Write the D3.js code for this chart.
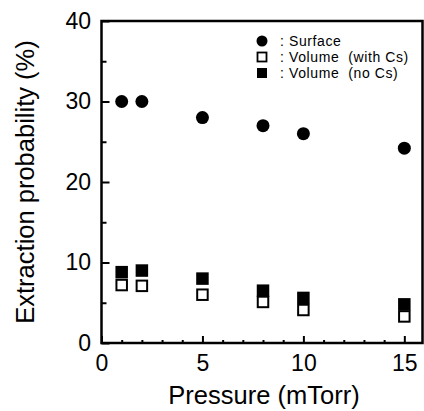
<!DOCTYPE html>
<html>
<head>
<meta charset="utf-8">
<script src="https://cdn.jsdelivr.net/npm/d3@7"></script>
<style>
  body { margin: 0; background: #fff; }
  svg { display: block; font-family: "Liberation Sans", Arial, sans-serif; }
  .axis text { font-size: 23px; fill: #000; }
  .axis line { stroke: #000; stroke-width: 2; }
  .axis-title { font-size: 25.5px; fill: #000; }
  .legend text { font-size: 14px; letter-spacing: 0.6px; fill: #000; white-space: pre; }
</style>
</head>
<body>
<div id="chart"></div>
<script>
// data
const pressure = [1, 2, 5, 8, 10, 15];
const surface = [30, 30, 28, 27, 26, 24.2];
const volumeWithCs = [7.2, 7.1, 6.0, 5.1, 4.1, 3.3];
const volumeNoCs = [8.8, 9.0, 8.0, 6.5, 5.6, 4.8];

const xMajorTicks = [0, 5, 10, 15];
const xMinorTicks = [1, 2, 3, 4, 6, 7, 8, 9, 11, 12, 13, 14];
const yMajorTicks = [0, 10, 20, 30, 40];
const yMinorTicks = [5, 15, 25, 35];

const legendLabels = [': Surface', ': Volume  (with Cs)', ': Volume  (no Cs)'];

const containerWidth = 424, containerHeight = 411;
const margin = {top: 21, right: 1.5, bottom: 68, left: 101.5};
const width = containerWidth - margin.left - margin.right;
const height = containerHeight - margin.top - margin.bottom;

const svg = d3.select('#chart').append('svg')
    .attr('width', containerWidth)
    .attr('height', containerHeight);

const chart = svg.append('g')
    .attr('transform', `translate(${margin.left},${margin.top})`);

const xScale = d3.scaleLinear().domain([0, 15.9]).range([0, width]);
const yScale = d3.scaleLinear().domain([0, 40]).range([height, 0]);

// major + minor ticks, pointing inward
const xAxis = d3.axisBottom(xScale).tickValues(xMajorTicks).tickSize(-7).tickPadding(12).tickFormat(d3.format('d'));
const xMinor = d3.axisBottom(xScale).tickValues(xMinorTicks).tickSize(-3).tickFormat('');
const yAxis = d3.axisLeft(yScale).tickValues(yMajorTicks).tickSize(-8).tickPadding(10.5).tickFormat(d3.format('d'));
const yMinor = d3.axisLeft(yScale).tickValues(yMinorTicks).tickSize(-5).tickFormat('');

chart.append('g').attr('class', 'axis x-axis')
    .attr('transform', `translate(0,${height})`)
    .call(xAxis)
    .call(g => g.select('.domain').remove());
chart.append('g').attr('class', 'axis x-axis')
    .attr('transform', `translate(0,${height})`)
    .call(xMinor)
    .call(g => g.select('.domain').remove());
chart.append('g').attr('class', 'axis y-axis')
    .call(yAxis)
    .call(g => g.select('.domain').remove());
chart.append('g').attr('class', 'axis y-axis')
    .call(yMinor)
    .call(g => g.select('.domain').remove());

chart.selectAll('.axis text').attr('font-family', null).attr('font-size', null);

// frame
chart.append('rect')
    .attr('x', 0).attr('y', 0)
    .attr('width', width).attr('height', height)
    .attr('fill', 'none')
    .attr('stroke', '#000')
    .attr('stroke-width', 2.5);

// axis titles
svg.append('text')
    .attr('class', 'axis-title')
    .attr('x', 264)
    .attr('y', 404)
    .attr('text-anchor', 'middle')
    .text('Pressure (mTorr)');

svg.append('text')
    .attr('class', 'axis-title')
    .attr('transform', 'translate(34,182) rotate(-90)')
    .attr('text-anchor', 'middle')
    .text('Extraction probability (%)');

// points
const sq = 12.5;
const rows = pressure.map((p, i) => ({p, s: surface[i], w: volumeWithCs[i], n: volumeNoCs[i]}));

chart.selectAll('.surface')
    .data(rows)
    .join('circle')
    .attr('class', 'surface')
    .attr('cx', d => xScale(d.p))
    .attr('cy', d => yScale(d.s))
    .attr('r', 6.5)
    .attr('fill', '#000');

chart.selectAll('.with-cs')
    .data(rows)
    .join('rect')
    .attr('class', 'with-cs')
    .attr('x', d => xScale(d.p) - sq / 2 + 1)
    .attr('y', d => yScale(d.w) - sq / 2 + 1)
    .attr('width', sq - 2)
    .attr('height', sq - 2)
    .attr('fill', '#fff')
    .attr('stroke', '#000')
    .attr('stroke-width', 2);

chart.selectAll('.no-cs')
    .data(rows)
    .join('rect')
    .attr('class', 'no-cs')
    .attr('x', d => xScale(d.p) - sq / 2)
    .attr('y', d => yScale(d.n) - sq / 2)
    .attr('width', sq)
    .attr('height', sq)
    .attr('fill', '#000');

// legend
const legend = svg.append('g').attr('class', 'legend');
const legendY = [41, 57, 73];

legend.append('circle')
    .attr('cx', 262).attr('cy', legendY[0]).attr('r', 5.5).attr('fill', '#000');
legend.append('rect')
    .attr('x', 257.5).attr('y', legendY[1] - 4.5).attr('width', 9).attr('height', 9)
    .attr('fill', '#fff').attr('stroke', '#000').attr('stroke-width', 1.8);
legend.append('rect')
    .attr('x', 257).attr('y', legendY[2] - 5).attr('width', 10).attr('height', 10)
    .attr('fill', '#000');

legend.selectAll('text')
    .data(legendLabels)
    .join('text')
    .attr('x', 280)
    .attr('y', (d, i) => legendY[i])
    .attr('dy', '0.35em')
    .text(d => d);
</script>
</body>
</html>
